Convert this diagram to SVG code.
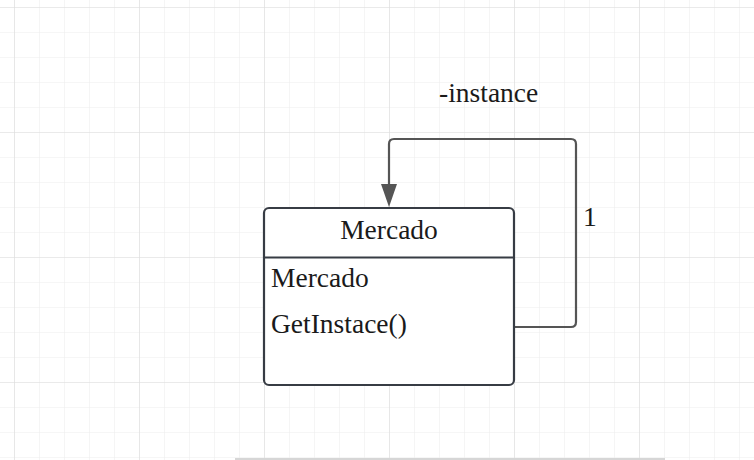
<svg xmlns="http://www.w3.org/2000/svg" width="754" height="460" viewBox="0 0 754 460">
  <defs>
    <pattern id="minor" x="14" y="7" width="25" height="25" patternUnits="userSpaceOnUse">
      <path d="M0 0 V25 M0 0 H25" fill="none" stroke="#eeeeee" stroke-width="1.2"/>
    </pattern>
    <pattern id="major" x="14" y="7" width="125" height="125" patternUnits="userSpaceOnUse">
      <path d="M0 0 V125 M0 0 H125" fill="none" stroke="#dedede" stroke-width="1.2"/>
    </pattern>
    <style>
      .txt { font-family: "Liberation Serif", "Times New Roman", serif; font-size: 27.5px; fill: #1a1a1a; }
      .box { fill: #ffffff; stroke: #373c44; stroke-width: 2.2; }
      .edge { fill: none; stroke: #555555; stroke-width: 2.2; }
    </style>
  </defs>
  <rect x="0" y="0" width="754" height="460" fill="#ffffff"/>
  <rect x="0" y="0" width="754" height="460" fill="url(#minor)"/>
  <rect x="0" y="0" width="754" height="460" fill="url(#major)"/>
  <rect x="235" y="458" width="430" height="2" fill="#d6d6d6"/>

  <g id="connectors">
    <path class="edge" d="M514 327 H571 Q576 327 576 322 V144 Q576 139 571 139 H394 Q389 139 389 144 V186"/>
    <path d="M381 184 L397 184 L389 207 Z" fill="#555555"/>
    <text class="txt" x="439" y="102">-instance</text>
    <text class="txt" x="583" y="226">1</text>
  </g>

  <g id="node-mercado">
    <rect class="box" x="264" y="208" width="250" height="177" rx="5" ry="5"/>
    <line x1="264" y1="257.5" x2="514" y2="257.5" stroke="#373c44" stroke-width="2.2"/>
    <text class="txt" x="389" y="239" text-anchor="middle">Mercado</text>
    <text class="txt" x="271" y="287">Mercado</text>
    <text class="txt" x="271" y="333">GetInstace()</text>
  </g>
</svg>
